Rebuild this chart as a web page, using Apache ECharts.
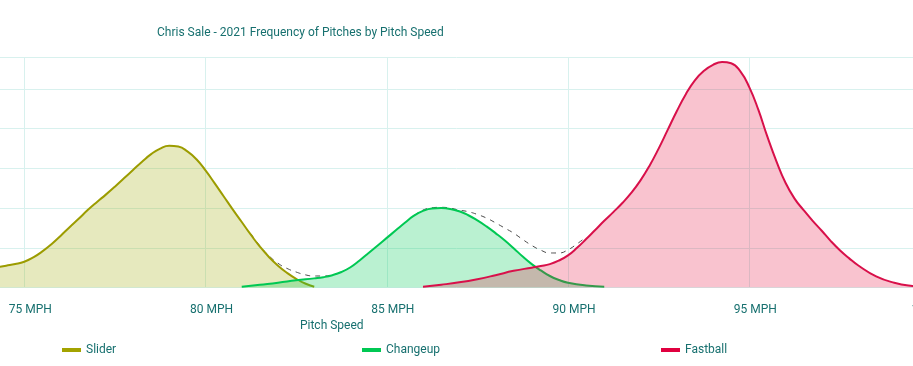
<!DOCTYPE html>
<html>
<head>
<meta charset="utf-8">
<script src="https://cdn.jsdelivr.net/npm/echarts@6/dist/echarts.min.js"></script>
<style>
html,body{margin:0;padding:0;background:#fff;}
#chart{width:913px;height:366px;}
</style>
</head>
<body>
<div id="chart"></div>
<script>
// ---- data ----
var sliderSpeed = [73.5, 74.0, 74.25, 74.5, 74.75, 75.0, 75.25, 75.5, 75.75, 76.0, 76.25, 76.5, 76.75, 77.0, 77.25, 77.5, 77.75, 78.0, 78.25, 78.5, 78.75, 79.0, 79.25, 79.5, 79.75, 80.0, 80.25, 80.5, 80.75, 81.0, 81.25, 81.5, 81.75, 82.0, 82.25, 82.5, 82.75, 83.0];
var sliderFreq  = [0.41, 0.47, 0.51, 0.55, 0.59, 0.65, 0.76, 0.91, 1.09, 1.30, 1.52, 1.73, 1.95, 2.15, 2.34, 2.54, 2.75, 2.96, 3.17, 3.36, 3.50, 3.57, 3.55, 3.43, 3.23, 2.95, 2.63, 2.30, 1.97, 1.65, 1.33, 1.03, 0.77, 0.55, 0.37, 0.22, 0.10, 0.02];

var changeupSpeed = [81.0, 81.5, 82.0, 82.5, 83.0, 83.25, 83.5, 83.75, 84.0, 84.25, 84.5, 84.75, 85.0, 85.25, 85.5, 85.75, 86.0, 86.25, 86.5, 86.75, 87.0, 87.25, 87.5, 87.75, 88.0, 88.25, 88.5, 88.75, 89.0, 89.25, 89.5, 89.75, 90.0, 90.5, 91.0];
var changeupFreq  = [0.02, 0.07, 0.12, 0.18, 0.23, 0.26, 0.31, 0.39, 0.51, 0.68, 0.87, 1.06, 1.25, 1.44, 1.63, 1.81, 1.93, 1.99, 2.00, 1.98, 1.92, 1.82, 1.69, 1.54, 1.37, 1.19, 0.99, 0.78, 0.59, 0.43, 0.29, 0.19, 0.12, 0.05, 0.02];

var fastballSpeed = [86.0, 86.5, 87.0, 87.5, 88.0, 88.5, 89.0, 89.25, 89.5, 89.75, 90.0, 90.25, 90.5, 90.75, 91.0, 91.25, 91.5, 91.75, 92.0, 92.25, 92.5, 92.75, 93.0, 93.25, 93.5, 93.75, 94.0, 94.25, 94.5, 94.75, 95.0, 95.25, 95.5, 95.75, 96.0, 96.25, 96.5, 96.75, 97.0, 97.25, 97.5, 97.75, 98.0, 98.5, 99.0, 99.5, 100.0, 100.5];
var fastballFreq  = [0.02, 0.07, 0.13, 0.21, 0.31, 0.42, 0.50, 0.54, 0.59, 0.68, 0.81, 1.00, 1.22, 1.45, 1.68, 1.90, 2.13, 2.39, 2.70, 3.07, 3.50, 3.97, 4.44, 4.87, 5.22, 5.46, 5.61, 5.68, 5.65, 5.45, 5.05, 4.48, 3.80, 3.18, 2.64, 2.24, 1.95, 1.68, 1.43, 1.17, 0.94, 0.74, 0.56, 0.28, 0.12, 0.04, 0.01, 0.0];

// combined (all pitches) dashed curve, shown where it separates from the single curves
var totalSpeed = [81.25, 81.5, 81.75, 82.0, 82.25, 82.5, 82.75, 83.0, 83.25, 83.5, 83.75, 84.0, '-', 85.75, 86.0, 86.25, 86.5, 86.75, 87.0, 87.25, 87.5, 87.75, 88.0, 88.25, 88.5, 88.75, 89.0, 89.25, 89.5, 89.75, 90.0, 90.25, 90.5];
var totalFreq  = [1.35, 1.05, 0.80, 0.61, 0.48, 0.39, 0.32, 0.29, 0.29, 0.32, 0.39, 0.51, '-', 1.81, 1.95, 2.01, 2.02, 2.00, 1.95, 1.91, 1.84, 1.75, 1.63, 1.50, 1.37, 1.21, 1.06, 0.94, 0.87, 0.87, 0.95, 1.10, 1.27];

var speedTicks = [70, 75, 80, 85, 90, 95, 100];
var pitchNames = ['Slider', 'Changeup', 'Fastball'];

function pairs(xs, ys) {
  return xs.map(function (x, i) { return [x, ys[i]]; });
}

var TEXT = '#17706f';
var GRID = '#d8f1ee';
var FONT = 'Roboto';

var chart = echarts.init(document.getElementById('chart'), null, {renderer: 'canvas'});

function legendAt(name, left) {
  return {
    data: [name], left: left, top: 344, padding: 0,
    icon: 'rect', itemWidth: 19, itemHeight: 4, itemGap: 5,
    selectedMode: false,
    textStyle: {color: TEXT, fontSize: 12, fontFamily: FONT}
  };
}

chart.setOption({
  animation: false,
  backgroundColor: '#ffffff',
  title: {
    text: 'Chris Sale - 2021 Frequency of Pitches by Pitch Speed',
    left: 152, top: 22, padding: 5,
    textStyle: {color: TEXT, fontSize: 12, fontWeight: 'normal', fontFamily: FONT}
  },
  legend: [legendAt(pitchNames[0], 62), legendAt(pitchNames[1], 362), legendAt(pitchNames[2], 661)],
  grid: {left: -157, right: -17.5, top: 57.3, bottom: 78.5, containLabel: false, outerBoundsMode: 'none'},
  xAxis: {
    type: 'value', min: speedTicks[0], max: speedTicks[speedTicks.length - 1], interval: 5,
    name: 'Pitch Speed', nameLocation: 'middle', nameGap: 25,
    nameTextStyle: {color: TEXT, fontSize: 12, fontFamily: FONT, padding: [0, 110, 0, 0]},
    axisLine: {show: false}, axisTick: {show: false},
    axisLabel: {
      color: TEXT, fontSize: 12, fontFamily: FONT, margin: 16, padding: [0, 0, 0, 12],
      formatter: function (v) { return v + ' MPH'; }
    },
    splitLine: {show: true, lineStyle: {color: GRID, width: 1}}
  },
  yAxis: {
    type: 'value', min: 0, max: 5.8, interval: 1,
    axisLine: {show: false}, axisTick: {show: false}, axisLabel: {show: false},
    splitLine: {show: true, lineStyle: {color: GRID, width: 1}}
  },
  series: [
    {
      name: 'All', type: 'line', smooth: 0.5, showSymbol: false, silent: true,
      data: pairs(totalSpeed, totalFreq), connectNulls: false,
      lineStyle: {color: '#4a4a4a', width: 1, type: [5, 5]}, z: 1
    },
    {
      name: pitchNames[0], type: 'line', smooth: 0.5, showSymbol: false,
      data: pairs(sliderSpeed, sliderFreq),
      itemStyle: {color: '#a3a300'},
      lineStyle: {color: '#9c9c00', width: 2},
      areaStyle: {color: 'rgba(165,175,20,0.28)', opacity: 1}, z: 2
    },
    {
      name: pitchNames[1], type: 'line', smooth: 0.5, showSymbol: false,
      data: pairs(changeupSpeed, changeupFreq),
      itemStyle: {color: '#00c853'},
      lineStyle: {color: '#00c853', width: 2},
      areaStyle: {color: 'rgba(0,205,85,0.27)', opacity: 1}, z: 3
    },
    {
      name: pitchNames[2], type: 'line', smooth: 0.5, showSymbol: false,
      data: pairs(fastballSpeed, fastballFreq),
      itemStyle: {color: '#e0003f'},
      lineStyle: {color: '#d8104a', width: 2},
      areaStyle: {color: 'rgba(229,0,51,0.235)', opacity: 1}, z: 4
    }
  ]
});
</script>
</body>
</html>
